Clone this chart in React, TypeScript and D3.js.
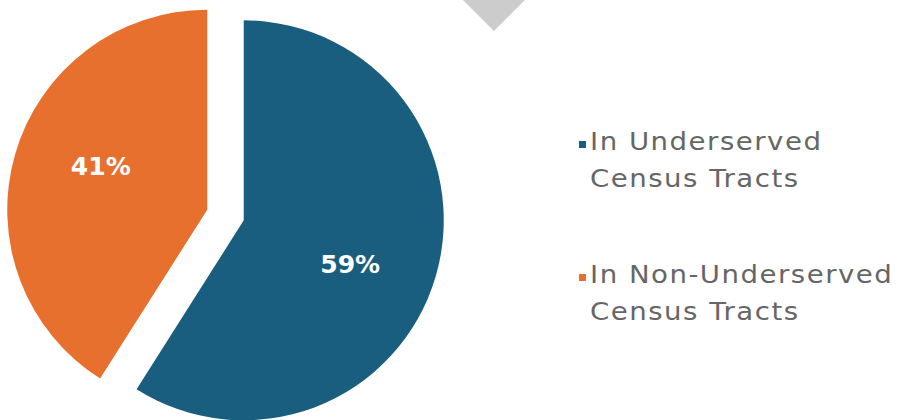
import React from "react";
import * as d3 from "d3";

const categories = ["In Underserved Census Tracts", "In Non-Underserved Census Tracts"];
const values = [59, 41];
const legendLines = [["In Underserved", "Census Tracts"], ["In Non-Underserved", "Census Tracts"]];
const colors = ["#195e7f", "#e8702f"];

const W = 911, H = 420;
const cx = 225.5, cy = 215, R = 200, explode = 19;
const labelR = 115, labelShift = (6 * Math.PI) / 180;

export default function App() {
  const pie = d3.pie<number>().sort(null).value((d) => d);
  const arcs = pie(values);
  const arc = d3.arc<d3.PieArcDatum<number>>().innerRadius(0).outerRadius(R);
  const total = d3.sum(values);
  const diamond = d3.symbol(d3.symbolSquare, 1922)();

  return (
    <svg width={W} height={H} style={{ position: "absolute", left: 0, top: 0, background: "#fff" }}>
      <path d={diamond || ""} transform="translate(494,0) rotate(45)" fill="#cccccc" />
      {arcs.map((a, i) => {
        const mid = (a.startAngle + a.endAngle) / 2;
        const ox = Math.sin(mid) * explode, oy = -Math.cos(mid) * explode;
        const la = mid + labelShift;
        const lx = Math.sin(la) * labelR, ly = -Math.cos(la) * labelR;
        return (
          <g key={i} transform={`translate(${cx + ox},${cy + oy})`}>
            <path d={arc(a) || ""} fill={colors[i]} />
            <text x={lx} y={ly} dy="0.36em" textAnchor="middle" fill="#fff"
              fontFamily="'DejaVu Sans', sans-serif" fontWeight="bold" fontSize={25}>
              {`${Math.round((values[i] / total) * 100)}%`}
            </text>
          </g>
        );
      })}
      {categories.map((c, i) => {
        const y0 = 150 + i * 133;
        return (
          <g key={c}>
            <rect x={579} y={y0 - 9} width={7} height={7} fill={colors[i]} />
            {legendLines[i].map((t, j) => (
              <text key={j} transform={`translate(590,${y0 + j * 37}) scale(1.15,1)`} fill="#666666" letterSpacing={1.3}
                fontFamily="'DejaVu Sans', sans-serif" fontSize={24}>{t}</text>
            ))}
          </g>
        );
      })}
    </svg>
  );
}
